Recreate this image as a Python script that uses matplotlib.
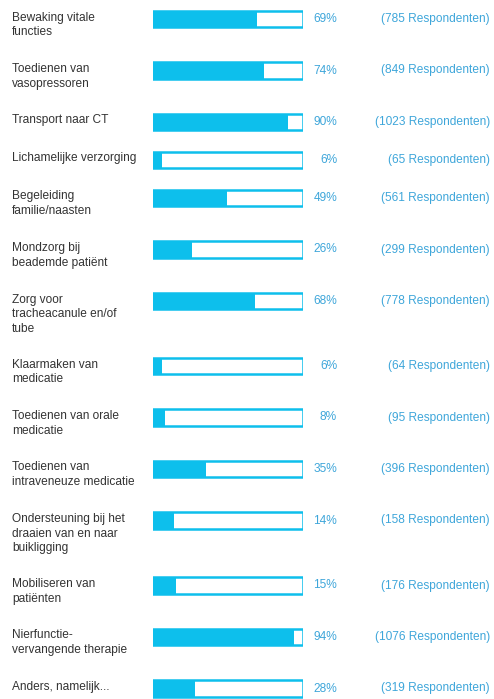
import matplotlib
matplotlib.use('Agg')
import matplotlib.pyplot as plt

plt.rcParams['font.family'] = ['Liberation Sans', 'DejaVu Sans']

labels = [
    'Bewaking vitale\nfuncties',
    'Toedienen van\nvasopressoren',
    'Transport naar CT',
    'Lichamelijke verzorging',
    'Begeleiding\nfamilie/naasten',
    'Mondzorg bij\nbeademde patiënt',
    'Zorg voor\ntracheacanule en/of\ntube',
    'Klaarmaken van\nmedicatie',
    'Toedienen van orale\nmedicatie',
    'Toedienen van\nintraveneuze medicatie',
    'Ondersteuning bij het\ndraaien van en naar\nbuikligging',
    'Mobiliseren van\npatiënten',
    'Nierfunctie-\nvervangende therapie',
    'Anders, namelijk...',
]
percent = [69, 74, 90, 6, 49, 26, 68, 6, 8, 35, 14, 15, 94, 28]
respondents = [785, 849, 1023, 65, 561, 299, 778, 64, 95, 396, 158, 176, 1076, 319]

BAR_COLOR = '#0dbfec'
TEXT_BLUE = '#3ea6da'
LABEL_COLOR = '#333333'
FS = 8.6

W, H = 494, 699
fig = plt.figure(figsize=(W / 100, H / 100), dpi=100)

# background axes in pixel units for the text
bg = fig.add_axes([0, 0, 1, 1])
bg.set_xlim(0, W)
bg.set_ylim(H, 0)
bg.axis('off')

# row centres depend on how many lines the label takes
centres = []
y = 19
for lab in labels:
    centres.append(y)
    n = lab.count('\n') + 1
    y += 38 + 13.5 * (n - 1)

# bar axes: 0..100 percent across the box
bx = fig.add_axes([153 / W, 0, 150 / W, 1])
bx.set_xlim(0, 100)
bx.set_ylim(H, 0)
bx.axis('off')

bar_h = 16.5
bx.barh(centres, [100] * len(centres), height=bar_h, color='white',
        edgecolor=BAR_COLOR, linewidth=1.8)
bx.barh(centres, percent, height=bar_h, color=BAR_COLOR, linewidth=0)

for lab, c, p, r in zip(labels, centres, percent, respondents):
    bg.text(12, c - 7.5, lab, ha='left', va='top', fontsize=FS,
            color=LABEL_COLOR, linespacing=1.3)
    bg.text(337, c + 3, '{}%'.format(p), ha='right', va='baseline',
            fontsize=FS, color=TEXT_BLUE)
    bg.text(490, c + 3, '({} Respondenten)'.format(r), ha='right',
            va='baseline', fontsize=FS, color=TEXT_BLUE)

fig.savefig('out.png', dpi=100)
